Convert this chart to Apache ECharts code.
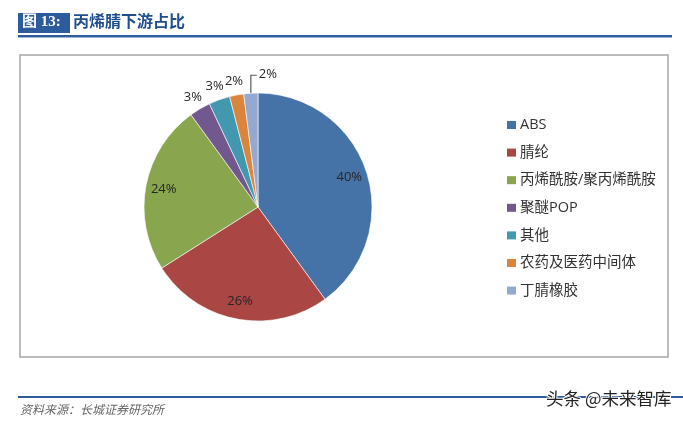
<!DOCTYPE html>
<html>
<head>
<meta charset="utf-8">
<script src="https://cdn.jsdelivr.net/npm/echarts@6/dist/echarts.min.js"></script>
<style>
html,body{margin:0;padding:0;background:#fff;}
#c{width:683px;height:425px;}
</style>
</head>
<body>
<div id="c"></div>
<script>
var categories = ['ABS', '腈纶', '丙烯酰胺/聚丙烯酰胺', '聚醚POP', '其他', '农药及医药中间体', '丁腈橡胶'];
var values = [40, 26, 24, 3, 3, 2, 2];
var colors = ['#4572A7', '#AA4643', '#89A54E', '#71588F', '#4198AF', '#DB843D', '#93A9CF'];
// label placement: 'in' = inside slice, 'out' = just outside, 'line' = outside with leader line
var labelMode = ['in', 'in', 'in', 'out', 'out', 'out', 'line'];

var FONT = '"Open Sans","Noto Sans CJK SC",sans-serif';
var chart = echarts.init(document.getElementById('c'), null, {renderer: 'canvas'});

function ringData(mode) {
  return categories.map(function (n, i) {
    return {name: n, value: values[i], label: {show: labelMode[i] === mode}};
  });
}
var pieData = categories.map(function (n, i) {
  return {
    name: n, value: values[i],
    itemStyle: {color: colors[i]},
    label: {show: labelMode[i] === 'line'},
    labelLine: {show: labelMode[i] === 'line'}
  };
});

var labelFont = {fontSize: 13, color: '#262626', fontFamily: FONT, formatter: '{c}%'};

chart.setOption({
  animation: false,
  color: colors,
  graphic: [
    {type: 'rect', shape: {x: 18, y: 13, width: 52, height: 20}, style: {fill: '#2D5C9C'}},
    {type: 'text', left: 22, top: 15, style: {text: '图 13:', fill: '#fff', font: 'bold 15px "Liberation Serif","Noto Sans CJK SC",serif'}},
    {type: 'text', left: 73, top: 13, style: {text: '丙烯腈下游占比', fill: '#1F4E8F', font: 'bold 16px "Noto Sans CJK SC",sans-serif'}},
    {type: 'rect', shape: {x: 18, y: 35, width: 654, height: 2}, style: {fill: '#2D5C9C'}},
    {type: 'rect', shape: {x: 18, y: 37, width: 654, height: 1}, style: {fill: '#9DB4DA'}},
    {type: 'rect', shape: {x: 20, y: 55, width: 648, height: 302}, style: {fill: 'none', stroke: '#A6A6A6', lineWidth: 1.5}},
    {type: 'rect', shape: {x: 18, y: 396, width: 665, height: 2}, style: {fill: '#2D5C9C'}},
    {type: 'text', left: 20, top: 403, style: {text: '资料来源：长城证券研究所', fill: '#666', font: 'italic 12px "Noto Sans CJK SC",sans-serif'}},
    {type: 'text', left: 545, top: 389, z: 10, style: {text: '头条 @未来智库', fill: '#222', stroke: '#fff', lineWidth: 2, font: '17.5px "Noto Sans CJK SC",sans-serif'}}
  ],
  legend: {
    orient: 'vertical',
    left: 502, top: 112.5,
    itemWidth: 9, itemHeight: 8,
    itemGap: 12.6,
    icon: 'rect',
    itemStyle: {borderWidth: 0},
    data: categories,
    textStyle: {fontSize: 14.5, lineHeight: 15, color: '#333', fontFamily: FONT, padding: [0, 0, 0, -1]}
  },
  series: [
    {
      type: 'pie',
      center: [258, 207],
      radius: [0, 114],
      startAngle: 90,
      clockwise: true,
      avoidLabelOverlap: false,
      itemStyle: {borderColor: '#fff', borderWidth: 0.6},
      label: Object.assign({position: 'outside'}, labelFont),
      labelLine: {length: 16, length2: 0, lineStyle: {color: '#595959', width: 1.2}},
      labelLayout: function (p) {
        if (p.labelLinePoints) {
          var p0 = p.labelLinePoints[0], p1 = p.labelLinePoints[1];
          var y = p1[1] - 2;
          return {
            x: p0[0] + 8, y: y - 1, align: 'left', verticalAlign: 'middle',
            labelLinePoints: [[p0[0], p0[1]], [p0[0], y], [p0[0] + 6, y]]
          };
        }
        return {};
      },
      data: pieData
    },
    {
      type: 'pie',
      center: [258, 207],
      radius: [72, 114],
      startAngle: 90,
      clockwise: true,
      silent: true,
      itemStyle: {color: 'transparent'},
      label: Object.assign({position: 'inside'}, labelFont),
      labelLine: {show: false},
      data: ringData('in')
    },
    {
      type: 'pie',
      center: [258, 207],
      radius: [112, 138],
      startAngle: 90,
      clockwise: true,
      silent: true,
      itemStyle: {color: 'transparent'},
      label: Object.assign({position: 'inside'}, labelFont),
      labelLine: {show: false},
      data: ringData('out')
    }
  ]
});
</script>
</body>
</html>
